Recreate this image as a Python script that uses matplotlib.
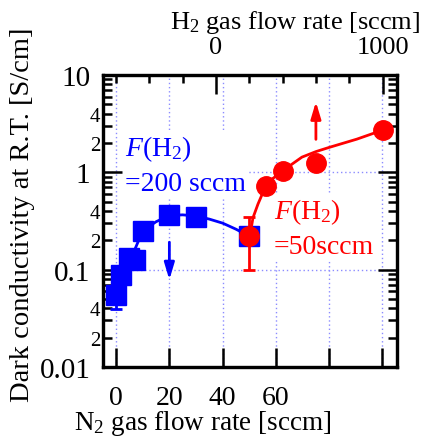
import numpy as np
import matplotlib
matplotlib.use("Agg")
import matplotlib.pyplot as plt
from matplotlib.ticker import LogLocator, FixedLocator, FuncFormatter, NullFormatter

plt.rcParams['font.family'] = ['Liberation Serif', 'DejaVu Serif']
plt.rcParams['mathtext.fontset'] = 'custom'
plt.rcParams['mathtext.rm'] = 'Liberation Serif'
plt.rcParams['mathtext.it'] = 'Liberation Serif:italic'

# N2 series (F(H2) = 200 sccm), bottom axis
n2_flow = [0, 2, 5, 7, 10, 20, 30, 50]
n2_sigma = [0.055, 0.087, 0.13, 0.125, 0.25, 0.36, 0.35, 0.22]
n2_err_lo = [0.016, 0, 0, 0, 0, 0, 0, 0]
n2_err_hi = [0.01, 0, 0, 0, 0, 0, 0, 0]
n2_fit_x = [0, 2, 5, 7, 10, 15, 20, 25, 30, 35, 40, 45, 50]
n2_fit_y = [0.055, 0.087, 0.13, 0.16, 0.25, 0.31, 0.36, 0.365, 0.355, 0.33, 0.30, 0.26, 0.22]

# H2 series (F(N2) = 50 sccm), top axis
h2_flow = [200, 300, 400, 600, 1000]
h2_sigma = [0.22, 0.72, 1.02, 1.24, 2.75]
h2_err_lo = [0.12, 0, 0, 0, 0]
h2_err_hi = [0.124, 0, 0, 0, 0]
h2_fit_x = [200, 222, 252, 282, 300, 340, 400, 456, 516, 600, 684, 846, 942, 1000]
h2_fit_y = [0.2, 0.34, 0.47, 0.62, 0.70, 0.86, 1.02, 1.21, 1.43, 1.63, 1.81, 2.19, 2.5, 2.72]

x_ticks = [0, 20, 40, 60, 80, 100]
x_ticklabels = ['0', '20', '40', '60', '', '']

BLUE = '#0000ff'
RED = '#ff0000'
GRID = '#8c8cff'

fig = plt.figure(figsize=(4.24, 4.39), dpi=100)
ax = fig.add_axes([0.243, 0.162, 0.693, 0.665])

ax.set_yscale('log')
ax.set_ylim(0.01, 10)
ax.set_xlim(-4.9, 105.4)

ax.set_xticks(x_ticks)
ax.set_xticklabels(x_ticklabels)
ax.yaxis.set_major_locator(FixedLocator([0.01, 0.1, 1, 10]))
ax.yaxis.set_minor_locator(LogLocator(base=10, subs=np.arange(2, 10)))
ax.yaxis.set_major_formatter(FuncFormatter(lambda v, p: '%g' % v))


def minor_fmt(v, p):
    d = v / 10 ** np.floor(np.log10(v) + 1e-9)
    return '%d' % round(d) if round(d) in (2, 4) else ''


ax.yaxis.set_minor_formatter(FuncFormatter(minor_fmt))

ax.grid(True, which='major', color=GRID, linestyle=(0, (1, 2)), linewidth=1.0)
ax.set_axisbelow(True)

for s in ax.spines.values():
    s.set_linewidth(2.3)

ax.tick_params(axis='x', which='major', direction='in', length=14, width=1.8,
               bottom=True, top=False, labelsize=20, pad=13)
ax.tick_params(axis='y', which='major', direction='in', length=14, width=1.8,
               left=True, right=True, labelsize=21, pad=9)
ax.tick_params(axis='y', which='minor', direction='in', length=6.5, width=1.8,
               left=True, right=True, labelsize=15, pad=2)

ax.plot(n2_fit_x, n2_fit_y, color=BLUE, linewidth=2, zorder=3)
ax.errorbar(n2_flow, n2_sigma, yerr=[n2_err_lo, n2_err_hi], fmt='s', color=BLUE,
            markersize=14, elinewidth=2, capsize=4, capthick=2, zorder=4)
ax.annotate('', xy=(20, 0.0735), xytext=(20, 0.204),
            arrowprops=dict(arrowstyle='-|>,head_length=1.0,head_width=0.3',
                            color=BLUE, linewidth=2))

ax.text(0.075, 0.80, '$\\mathit{F}$(H$_2$)\n=200 sccm', transform=ax.transAxes,
        color=BLUE, fontsize=20, va='top', ha='left', zorder=3, linespacing=1.4,
        bbox=dict(facecolor='white', edgecolor='none', pad=1))

ax.set_xlabel('N$_2$ gas flow rate [sccm]', fontsize=19.5)
ax.xaxis.set_label_coords(0.34, -0.142)
ax.set_ylabel('Dark conductivity at R.T. [S/cm]', fontsize=20.5)
ax.yaxis.set_label_coords(-0.232, 0.524)

ax2 = ax.twiny()
ax2.set_xlim(-678, 1086)
ax2.set_xticks([0, 1000])
ax2.set_xticks([-600, -400, -200, 200, 400, 600, 800], minor=True)
ax2.xaxis.set_minor_formatter(NullFormatter())
ax2.tick_params(axis='x', which='major', direction='in', length=14, width=1.8,
                labelsize=19, pad=12)
ax2.tick_params(axis='x', which='minor', direction='in', length=6, width=1.8)
ax2.set_xlabel('H$_2$ gas flow rate [sccm]', fontsize=19)
ax2.xaxis.set_label_coords(0.655, 1.16)
for s in ax2.spines.values():
    s.set_linewidth(2.3)

ax2.text(0.582, 0.585, '$\\mathit{F}$(H$_2$)\n=50sccm', transform=ax2.transAxes,
         color=RED, fontsize=20, va='top', ha='left', zorder=2, linespacing=1.45,
         bbox=dict(facecolor='white', edgecolor='none', pad=1))
ax2.plot(h2_fit_x, h2_fit_y, color=RED, linewidth=2, zorder=3)
ax2.errorbar(h2_flow, h2_sigma, yerr=[h2_err_lo, h2_err_hi], fmt='o', color=RED,
             markersize=14, elinewidth=2, capsize=4, capthick=2, zorder=4)
ax2.annotate('', xy=(600, 5.66), xytext=(600, 2.04),
             arrowprops=dict(arrowstyle='-|>,head_length=1.0,head_width=0.3',
                             color=RED, linewidth=2))

fig.savefig('out.png', dpi=100)
